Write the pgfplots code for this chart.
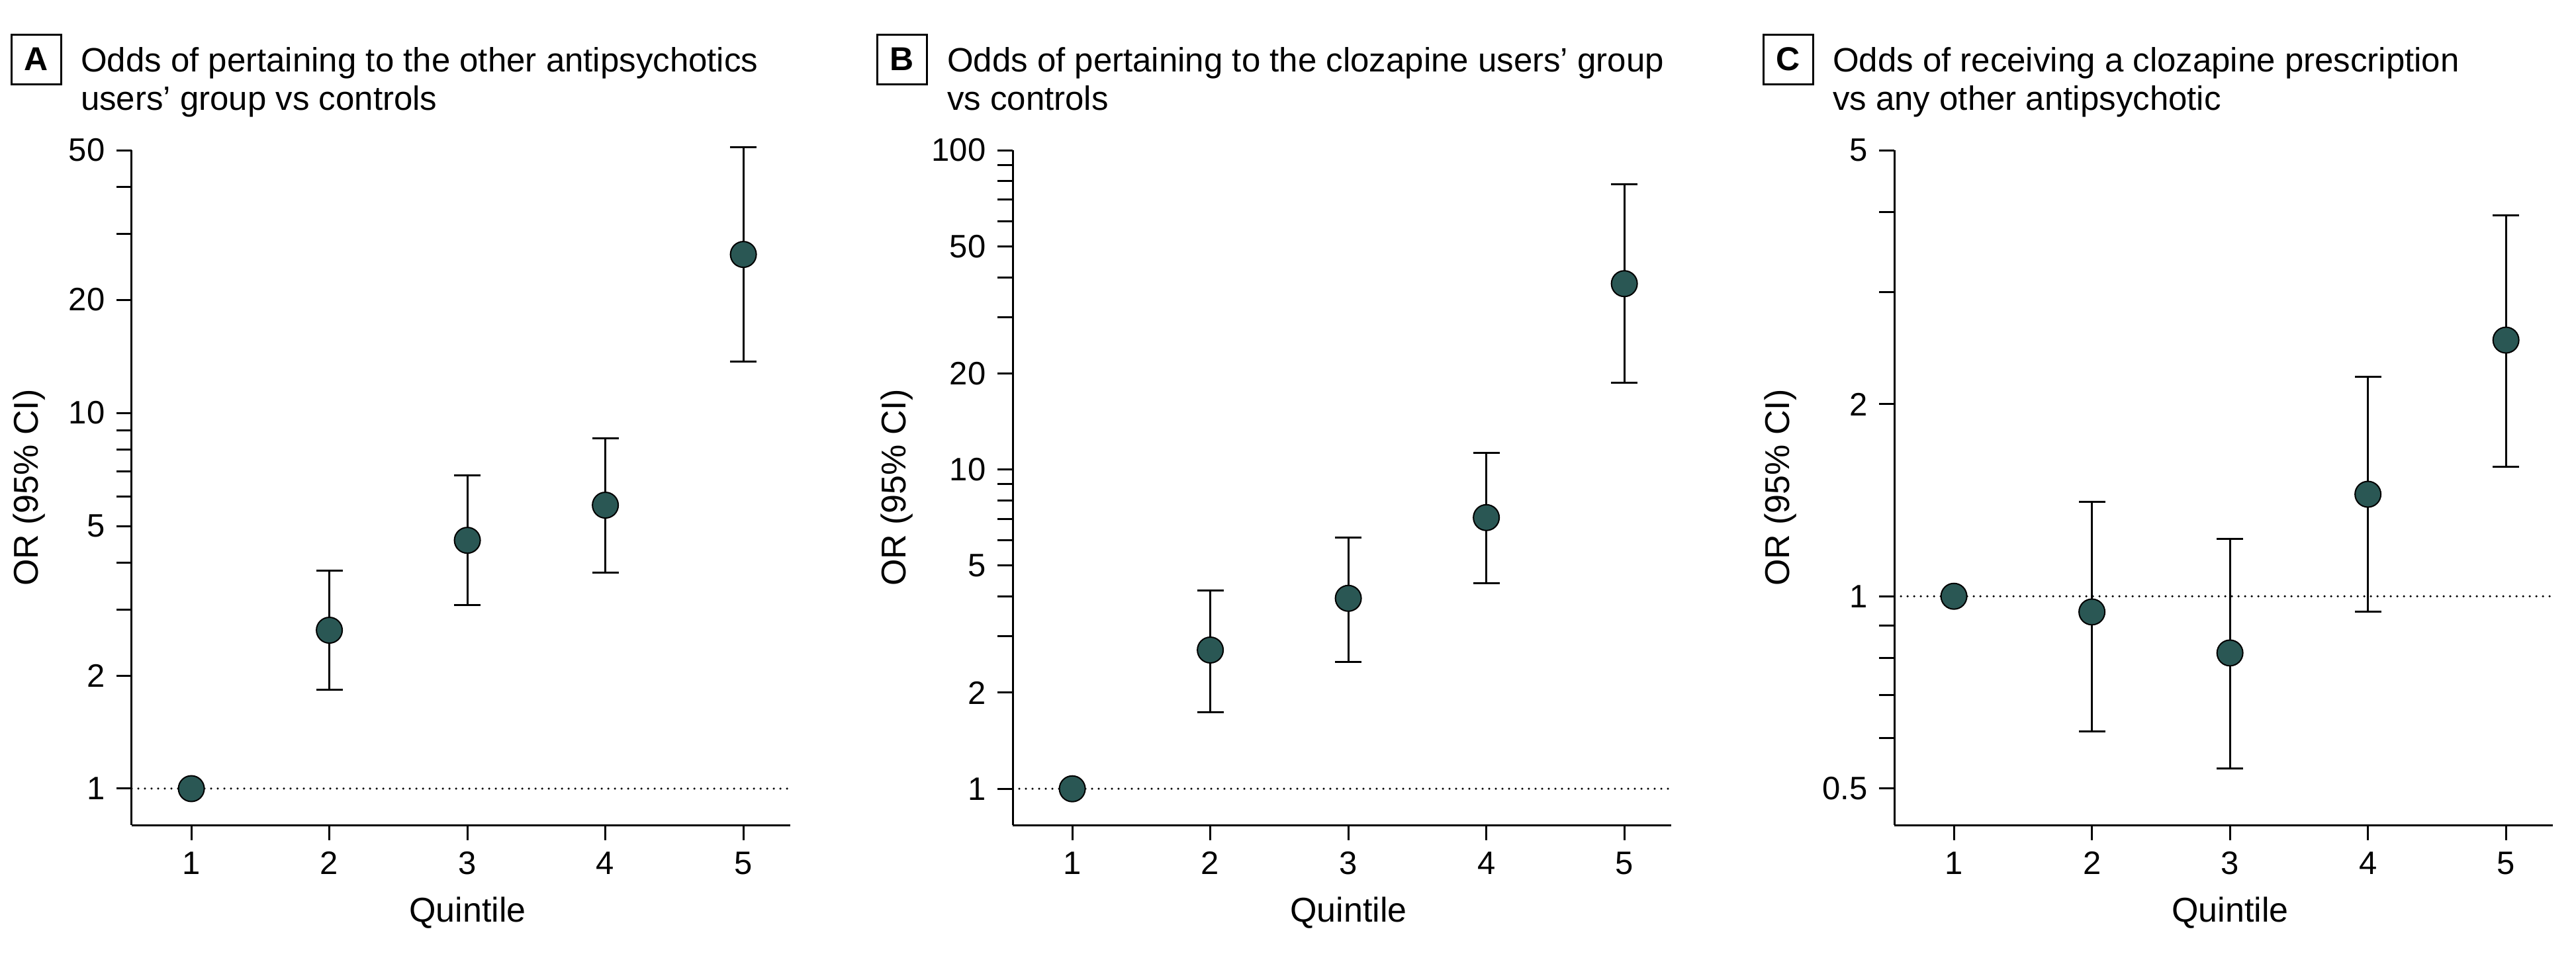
\documentclass[border=0pt]{standalone}
\usepackage{fontspec}
\setmainfont{Liberation Sans}
\usepackage{pgfplots}
\pgfplotsset{compat=1.18}
\definecolor{dotcol}{HTML}{2A5754}

\pgfplotsset{
  myaxis/.style={
    scale only axis, width=199pt, height=204pt,
    axis x line*=bottom, axis y line*=left,
    axis line style={line width=0.6pt, -},
    xmin=0.568, xmax=5.34,
    xtick={1,2,3,4,5},
    tick align=outside,
    major tick length=4.6pt, minor tick length=4.6pt,
    tick style={black, line width=0.6pt},
    /pgf/number format/assume math mode=true,
    tick label style={font=\fontsize{9.8}{11}\selectfont},
    label style={font=\fontsize{10.4}{12}\selectfont},
    xlabel={Quintile},
    ylabel={OR (95\% CI)},
    xlabel style={at={(axis description cs:0.51,0)}, anchor=center, yshift=-26.6pt},
    clip=false,
  },
}
\tikzset{
  mycibar/.style={black, line width=0.6pt, mark=-, mark size=4pt, mark options={solid, line width=0.6pt}},
  mydot/.style={only marks, mark=*, mark size=3.9pt, mark options={fill=dotcol, draw=none}},
  myref/.style={black, line width=0.7pt, line cap=round, dash pattern=on 0pt off 2pt},
}

\begin{document}
\begin{tikzpicture}
\path (0,0) rectangle (778.4pt,-290pt);

% ---------- Panel A ----------
\node[draw, line width=0.6pt, minimum width=15pt, minimum height=15pt, inner sep=0pt,
  font=\bfseries\fontsize{10}{12}\selectfont] at (10.9pt,-17.9pt) {A};
\node[anchor=base west, inner sep=0pt, font=\fontsize{10.2}{12}\selectfont] at (24.2pt,-21.6pt)
  {Odds of pertaining to the other antipsychotics};
\node[anchor=base west, inner sep=0pt, font=\fontsize{10.2}{12}\selectfont] at (24.2pt,-33.2pt)
  {users’ group vs controls};
\begin{axis}[myaxis, ymode=log, at={(39.8pt,-249.4pt)}, anchor=south west,
  ymin=0.8, ymax=50,
  ytick={1,2,5,10,20,50}, yticklabels={1,2,5,10,20,50},
  minor ytick={3,4,6,7,8,9,30,40},
  ylabel style={at={(axis description cs:0,0.5)}, anchor=center, rotate=0, yshift=31pt}]
\addplot[myref] coordinates {(0.568,1) (5.34,1)};
\addplot[mycibar] coordinates {(2,1.83) (2,3.81)};
\addplot[mycibar] coordinates {(3,3.08) (3,6.83)};
\addplot[mycibar] coordinates {(4,3.76) (4,8.54)};
\addplot[mycibar] coordinates {(5,13.7) (5,51.0)};
\addplot[mydot] coordinates {(1,1.00) (2,2.64) (3,4.58) (4,5.68) (5,26.4)};
\end{axis}

% ---------- Panel B ----------
\node[draw, line width=0.6pt, minimum width=15pt, minimum height=15pt, inner sep=0pt,
  font=\bfseries\fontsize{10}{12}\selectfont] at (272.5pt,-17.9pt) {B};
\node[anchor=base west, inner sep=0pt, font=\fontsize{10.2}{12}\selectfont] at (286pt,-21.6pt)
  {Odds of pertaining to the clozapine users’ group};
\node[anchor=base west, inner sep=0pt, font=\fontsize{10.2}{12}\selectfont] at (286pt,-33.2pt)
  {vs controls};
\begin{axis}[myaxis, ymode=log, at={(306pt,-249.4pt)}, anchor=south west,
  ymin=0.77, ymax=100,
  ytick={1,2,5,10,20,50,100}, yticklabels={1,2,5,10,20,50,100},
  minor ytick={3,4,6,7,8,9,30,40,60,70,80,90},
  ylabel style={at={(axis description cs:0,0.5)}, anchor=center, yshift=35pt}]
\addplot[myref] coordinates {(0.568,1) (5.34,1)};
\addplot[mycibar] coordinates {(2,1.74) (2,4.17)};
\addplot[mycibar] coordinates {(3,2.50) (3,6.13)};
\addplot[mycibar] coordinates {(4,4.41) (4,11.3)};
\addplot[mycibar] coordinates {(5,18.7) (5,78.1)};
\addplot[mydot] coordinates {(1,1.00) (2,2.72) (3,3.95) (4,7.07) (5,38.2)};
\end{axis}

% ---------- Panel C ----------
\node[draw, line width=0.6pt, minimum width=15pt, minimum height=15pt, inner sep=0pt,
  font=\bfseries\fontsize{10}{12}\selectfont] at (540.3pt,-17.9pt) {C};
\node[anchor=base west, inner sep=0pt, font=\fontsize{10.2}{12}\selectfont] at (553.6pt,-21.6pt)
  {Odds of receiving a clozapine prescription};
\node[anchor=base west, inner sep=0pt, font=\fontsize{10.2}{12}\selectfont] at (553.6pt,-33.2pt)
  {vs any other antipsychotic};
\begin{axis}[myaxis, ymode=log, at={(572.4pt,-249.4pt)}, anchor=south west,
  ymin=0.438, ymax=5,
  ytick={0.5,1,2,5}, yticklabels={0.5,1,2,5},
  minor ytick={0.6,0.7,0.8,0.9,3,4},
  ylabel style={at={(axis description cs:0,0.5)}, anchor=center, yshift=34.4pt}]
\addplot[myref] coordinates {(0.568,1) (5.34,1)};
\addplot[mycibar] coordinates {(2,0.614) (2,1.406)};
\addplot[mycibar] coordinates {(3,0.537) (3,1.23)};
\addplot[mycibar] coordinates {(4,0.945) (4,2.21)};
\addplot[mycibar] coordinates {(5,1.597) (5,3.95)};
\addplot[mydot] coordinates {(1,1.00) (2,0.945) (3,0.815) (4,1.445) (5,2.52)};
\end{axis}
\end{tikzpicture}
\end{document}
